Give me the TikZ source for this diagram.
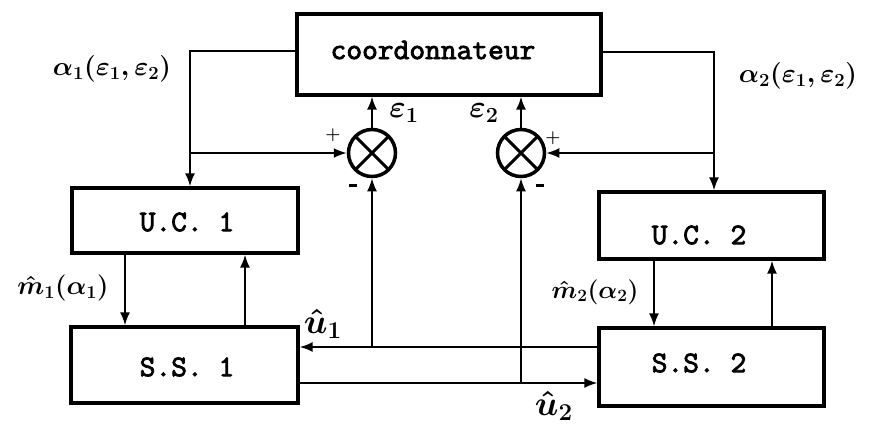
\documentclass[tikz,border=0pt]{standalone}
\usepackage{fontspec}
\setmonofont{lmmono10-regular}[Extension=.otf, FakeBold=2.5]
\usetikzlibrary{arrows.meta}
\begin{document}
\begin{tikzpicture}[x=1pt,y=-1pt,
  blk/.style={draw, line width=3.2pt, inner sep=0pt},
  tt/.style={font=\fontsize{30}{34}\selectfont\ttfamily, inner sep=0pt},
  lbl/.style={font=\fontsize{24}{28}\selectfont\boldmath, inner sep=0pt},
  sgn/.style={font=\fontsize{17}{18}\selectfont\boldmath, inner sep=0pt},
  conn/.style={line width=2pt},
  arr/.style={conn, -{Latex[length=13pt,width=10pt]}},
  sum/.style={circle, draw, line width=3.5pt, minimum size=47pt, inner sep=0pt,
    path picture={\draw[line width=3pt]
      (path picture bounding box.north west) -- (path picture bounding box.south east)
      (path picture bounding box.north east) -- (path picture bounding box.south west);}}
]
\useasboundingbox (0,0) rectangle (877,426);

% blocks
\node[blk, minimum width=304pt, minimum height=81pt] (co) at (449,54.5) {};
\node[tt] (cot) at (433,50) {coordonnateur};
\node[blk, minimum width=226pt, minimum height=65pt] (uc1) at (185,220.5) {};
\node[tt] (uc1t) at (187,222) {U.C. 1};
\node[blk, minimum width=227pt, minimum height=76pt] (ss1) at (184.5,365) {};
\node[tt] (ss1t) at (187,367) {S.S. 1};
\node[blk, minimum width=225pt, minimum height=67pt] (uc2) at (711.5,225.5) {};
\node[tt] (uc2t) at (699,235) {U.C. 2};
\node[blk, minimum width=225pt, minimum height=78pt] (ss2) at (711.5,367) {};
\node[tt] (ss2t) at (699,363) {S.S. 2};

% summing junctions
\node[sum] (s1) at (372,153) {};
\node[sum] (s2) at (521,153) {};

% coordinates
\coordinate (cl) at (190,51);
\coordinate (bl) at (190,153);
\coordinate (cr) at (714,52);
\coordinate (br) at (714,153);
\coordinate (d1) at (125,0);
\coordinate (up1) at (245,0);
\coordinate (d2) at (654,0);
\coordinate (up2) at (772,0);
\coordinate (j1) at (372,347);
\coordinate (j2) at (521,383);

% coordinator outputs
\draw[arr] (co.west |- cl) -- (cl) -- (uc1.north -| cl);
\draw[arr] (bl) -- (s1.west);
\draw[arr] (co.east |- cr) -- (cr) -- (uc2.north -| cr);
\draw[arr] (br) -- (s2.east);

% errors to coordinator
\draw[arr] (s1.north) -- (s1.north |- co.south);
\draw[arr] (s2.north) -- (s2.north |- co.south);

% UC <-> SS
\draw[arr] (uc1.south -| d1) -- (ss1.north -| d1);
\draw[arr] (ss1.north -| up1) -- (uc1.south -| up1);
\draw[arr] (uc2.south -| d2) -- (ss2.north -| d2);
\draw[arr] (ss2.north -| up2) -- (uc2.south -| up2);

% interconnections
\draw[arr] (ss2.west |- j1) -- (ss1.east |- j1);
\draw[arr] (j1) -- (s1.south);
\draw[arr] (ss1.east |- j2) -- (ss2.west |- j2);
\draw[arr] (j2) -- (s2.south);

% labels
\node[lbl] (la1) at (112,69) {\scalebox{1.07}{$\alpha_1(\varepsilon_1,\varepsilon_2)$}};
\node[lbl] (la2) at (798,76) {\scalebox{1.07}{$\alpha_2(\varepsilon_1,\varepsilon_2)$}};
\node[lbl] (lm1) at (63,288) {\scalebox{1.05}{$\hat{m}_1(\alpha_1)$}};
\node[lbl] (lm2) at (595,292) {\scalebox{1.0}{$\hat{m}_2(\alpha_2)$}};
\node[lbl] (lu1) at (323,324) {\scalebox{1.4}{$\hat{u}_1$}};
\node[lbl] (lu2) at (554,406) {\scalebox{1.4}{$\hat{u}_2$}};
\node[lbl] (le1) at (404,113) {\scalebox{1.25}{$\varepsilon_1$}};
\node[lbl] (le2) at (484,113) {\scalebox{1.25}{$\varepsilon_2$}};
\node[sgn] (p1) at (333,135) {$+$};
\node[sgn] (n1) at (353,185) {\rule{8pt}{3pt}};
\node[sgn] (p2) at (553,138) {$+$};
\node[sgn] (n2) at (540,185) {\rule{8pt}{3pt}};
\end{tikzpicture}
\end{document}
